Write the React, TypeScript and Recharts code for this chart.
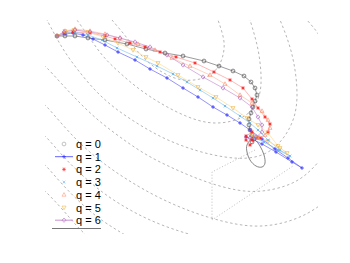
import React from 'react';
import { ComposedChart, Line, XAxis, YAxis } from 'recharts';

type Pt = [number, number];

// trajectories (arbitrary units, x right, y up)
const q0Path: Pt[] = [
  [12, 198], [20, 198], [30, 198], [43, 196], [60, 194], [82, 190], [101, 185], [120, 181],
  [138, 178], [159, 173], [174, 168], [188, 163], [199, 158], [206, 152], [210, 146], [212, 139],
  [210, 133], [208, 127], [206, 121], [204, 115], [204, 109], [205, 104], [207, 99], [209, 95], [207, 92],
];
const q1Path: Pt[] = [
  [12, 198], [20, 200], [28, 201], [38, 199], [48, 195], [60, 189], [73, 182], [90, 174],
  [105, 165], [122, 156], [138, 146], [153, 137], [168, 127], [182, 119], [195, 111], [205, 104],
  [217, 95], [230, 85], [243, 76], [257, 66], [247, 72], [231, 82], [217, 90], [207, 95], [201, 97],
];
const q2Path: Pt[] = [
  [12, 198], [19, 201], [28, 202], [45, 201], [60, 198], [70, 195], [85, 191], [100, 187],
  [115, 182], [131, 177], [150, 171], [169, 162], [185, 154], [198, 146], [207, 135], [213, 126],
  [220, 117], [225, 110], [223, 102], [215, 96], [207, 94], [201, 98], [207, 102], [212, 96],
  [205, 89], [201, 94],
];
const q3Path: Pt[] = [
  [12, 198], [21, 201], [30, 202], [43, 199], [57, 194], [72, 186], [92, 177], [112, 168],
  [128, 160], [142, 152], [155, 144], [168, 136], [180, 128], [195, 118], [205, 111], [213, 104],
  [223, 94], [235, 84], [245, 78], [233, 84], [219, 92], [210, 96], [205, 98],
];
const q4Path: Pt[] = [
  [12, 198], [20, 203], [30, 205], [45, 203], [60, 200], [75, 196], [93, 190], [110, 184],
  [127, 176], [145, 168], [165, 159], [180, 150], [195, 139], [207, 131], [217, 123], [223, 114],
  [225, 106], [220, 99], [213, 96], [207, 97],
];
const q5Path: Pt[] = [
  [12, 198], [20, 203], [29, 204], [43, 202], [58, 197], [73, 191], [88, 184], [101, 177],
  [113, 171], [133, 159], [153, 147], [171, 137], [188, 126], [202, 116], [213, 109], [223, 101],
  [233, 88], [242, 81], [235, 86], [223, 93], [213, 97], [207, 99],
];
const q6Path: Pt[] = [
  [12, 198], [19, 202], [30, 204], [45, 202], [62, 199], [75, 196], [90, 192], [105, 187],
  [122, 179], [138, 169], [158, 157], [178, 146], [195, 136], [207, 127], [213, 117], [217, 109],
  [217, 102], [211, 97], [205, 96],
];

// level curves (dashed)
const level1: Pt[] = [
  [61, 222], [67, 214], [78, 201], [89, 187], [102, 173], [117, 162], [133, 155], [149, 154],
  [163, 158], [173, 167], [178, 179], [179, 192], [176, 205], [173, 214], [170, 222],
];
const level2: Pt[] = [
  [27, 222], [32, 214], [44, 197], [58, 178], [75, 161], [93, 146], [112, 133], [132, 122],
  [152, 114], [170, 111], [187, 113], [201, 119], [210, 129], [215, 142], [216, 159], [214, 179],
  [210, 197], [205, 214], [202, 222],
];
const level3: Pt[] = [
  [-1, 220], [2, 214], [10, 199], [20, 182], [33, 164], [50, 144], [70, 126], [95, 109],
  [123, 94], [153, 83], [180, 77], [203, 76], [223, 82], [239, 97], [249, 117], [252, 139],
  [250, 164], [244, 190], [235, 214], [231, 222],
];
const level4: Pt[] = [
  [-5, 172], [2, 166], [15, 152], [32, 134], [52, 115], [75, 97], [102, 79], [132, 64],
  [162, 52], [192, 44], [217, 43], [240, 48], [259, 58], [275, 74], [287, 94], [293, 124],
  [290, 159], [277, 194], [262, 214], [255, 224],
];
const level5: Pt[] = [
  [-5, 133], [2, 127], [17, 110], [35, 91], [57, 72], [83, 54], [113, 37], [145, 23],
  [177, 13], [208, 8], [237, 11], [263, 21], [285, 36],
];
const level6: Pt[] = [
  [-5, 102], [2, 96], [18, 78], [37, 59], [60, 40], [87, 23], [117, 9], [147, -1], [165, -6],
];
const level7: Pt[] = [[-5, 73], [2, 67], [18, 49], [37, 30], [58, 13], [80, -1], [87, -6]];
const level8: Pt[] = [[-5, 47], [2, 41], [17, 25], [31, 9], [42, -2]];
const levels = [level1, level2, level3, level4, level5, level6, level7, level8];

const framePath: Pt[] = [[210, 84], [167, 62], [167, 14], [248, 68]];
const ellipsePath: Pt[] = [
  [206, 95], [202, 89], [202, 82], [205, 74], [211, 68], [217, 67], [220, 71], [219, 79],
  [215, 88], [210, 94], [206, 95],
];

const labels = ['q = 0', 'q = 1', 'q = 2', 'q = 3', 'q = 4', 'q = 5', 'q = 6'];

const rows = (pts: Pt[]) => pts.map(([x, y]) => ({ x, y }));

type Kind = 'o' | '+' | '*' | 'x' | '^' | 'v' | 'd';

function Marker({ kind, color, x, y }: { kind: Kind; color: string; x: number; y: number }) {
  const s = 1.9;
  switch (kind) {
    case 'o':
      return <circle cx={x} cy={y} r={1.9} fill="none" stroke={color} strokeWidth={0.7} />;
    case '+':
      return <path d={`M${x - s},${y}H${x + s}M${x},${y - s}V${y + s}`} stroke={color} strokeWidth={0.8} />;
    case '*':
      return (
        <path
          d={`M${x - s},${y}H${x + s}M${x},${y - s}V${y + s}M${x - 1.3},${y - 1.3}L${x + 1.3},${y + 1.3}M${x - 1.3},${y + 1.3}L${x + 1.3},${y - 1.3}`}
          stroke={color}
          strokeWidth={0.7}
        />
      );
    case 'x':
      return <path d={`M${x - 1.3},${y - 1.3}L${x + 1.3},${y + 1.3}M${x - 1.3},${y + 1.3}L${x + 1.3},${y - 1.3}`} stroke={color} strokeWidth={0.7} />;
    case '^':
      return <path d={`M${x},${y - 2.2}L${x + 2},${y + 1.4}L${x - 2},${y + 1.4}Z`} fill="none" stroke={color} strokeWidth={0.6} />;
    case 'v':
      return <path d={`M${x},${y + 2.2}L${x + 2},${y - 1.4}L${x - 2},${y - 1.4}Z`} fill="none" stroke={color} strokeWidth={0.6} />;
    default:
      return <path d={`M${x},${y - 2.2}L${x + 2},${y}L${x},${y + 2.2}L${x - 2},${y}Z`} fill="none" stroke={color} strokeWidth={0.6} />;
  }
}

const dotOf = (kind: Kind, color: string) => (p: any) => {
  if (p.cx == null || p.cy == null) return <g key={p.index} />;
  return <Marker key={p.index} kind={kind} color={color} x={p.cx} y={p.cy} />;
};

const series = [
  { path: q0Path, line: '#707070', marker: '#555555', kind: 'o' as Kind, legendMarker: '#a8a8a8', legendLine: false },
  { path: q1Path, line: '#6464ff', marker: '#2828ff', kind: '+' as Kind, legendMarker: '#3030ff', legendLine: true },
  { path: q2Path, line: '#ff9a9a', marker: '#ff2020', kind: '*' as Kind, legendMarker: '#ff3030', legendLine: false },
  { path: q3Path, line: '#8ac8f2', marker: '#44a6f0', kind: 'x' as Kind, legendMarker: '#6ab6ff', legendLine: false },
  { path: q4Path, line: '#ffc0a8', marker: '#ff8a66', kind: '^' as Kind, legendMarker: '#ff9a7a', legendLine: false },
  { path: q5Path, line: '#ffdc98', marker: '#f0b440', kind: 'v' as Kind, legendMarker: '#eeb84a', legendLine: false },
  { path: q6Path, line: '#c892d6', marker: '#a860b8', kind: 'd' as Kind, legendMarker: '#b070c0', legendLine: true },
];

const legendY = [144, 156.7, 169.4, 182.1, 194.8, 207.5, 220.2];

export default function App() {
  return (
    <div style={{ position: 'absolute', left: 0, top: 0, width: 350, height: 263, background: '#fff' }}>
      <ComposedChart width={350} height={263} margin={{ top: 20, right: 32, bottom: 29, left: 45 }}>
        <XAxis
          type="number"
          dataKey="x"
          domain={[0, 273]}
          allowDataOverflow
          height={0}
          tick={false}
          tickLine={false}
          axisLine={{ stroke: '#8a8a8a', strokeWidth: 1 }}
        />
        <YAxis
          type="number"
          dataKey="y"
          domain={[0, 214]}
          allowDataOverflow
          width={0}
          tick={false}
          tickLine={false}
          axisLine={{ stroke: '#8a8a8a', strokeWidth: 1 }}
        />
        {levels.map((lv, i) => (
          <Line
            key={`lv${i}`}
            data={rows(lv)}
            dataKey="y"
            type="natural"
            stroke="#858585"
            strokeWidth={0.6}
            strokeDasharray="2.5 2.5"
            dot={false}
            activeDot={false}
            isAnimationActive={false}
          />
        ))}
        <Line
          data={rows(framePath)}
          dataKey="y"
          type="linear"
          stroke="#a0a0a0"
          strokeWidth={0.7}
          strokeDasharray="1 2"
          dot={false}
          activeDot={false}
          isAnimationActive={false}
        />
        <Line
          data={rows(ellipsePath)}
          dataKey="y"
          type="natural"
          stroke="#666"
          strokeWidth={0.8}
          dot={false}
          activeDot={false}
          isAnimationActive={false}
        />
        {series.map((s, i) => (
          <Line
            key={`q${i}`}
            data={rows(s.path)}
            dataKey="y"
            type="linear"
            stroke={s.line}
            strokeWidth={0.7}
            dot={dotOf(s.kind, s.marker)}
            activeDot={false}
            isAnimationActive={false}
          />
        ))}
      </ComposedChart>
      <svg
        width={350}
        height={263}
        style={{ position: 'absolute', left: 0, top: 0, pointerEvents: 'none' }}
      >
        {series.map((s, i) => (
          <g key={labels[i]}>
            {s.legendLine && <line x1={55} x2={73} y1={legendY[i]} y2={legendY[i]} stroke={s.line} strokeWidth={1} />}
            <Marker kind={s.kind} color={s.legendMarker} x={64} y={legendY[i]} />
            <text
              x={76}
              y={legendY[i]}
              dominantBaseline="central"
              fontFamily="'Liberation Sans', Arial, sans-serif"
              fontSize={11}
              fill="#000"
            >
              {labels[i]}
            </text>
          </g>
        ))}
        <line x1={52} x2={101} y1={228.5} y2={228.5} stroke="#777" strokeWidth={1} />
      </svg>
    </div>
  );
}
